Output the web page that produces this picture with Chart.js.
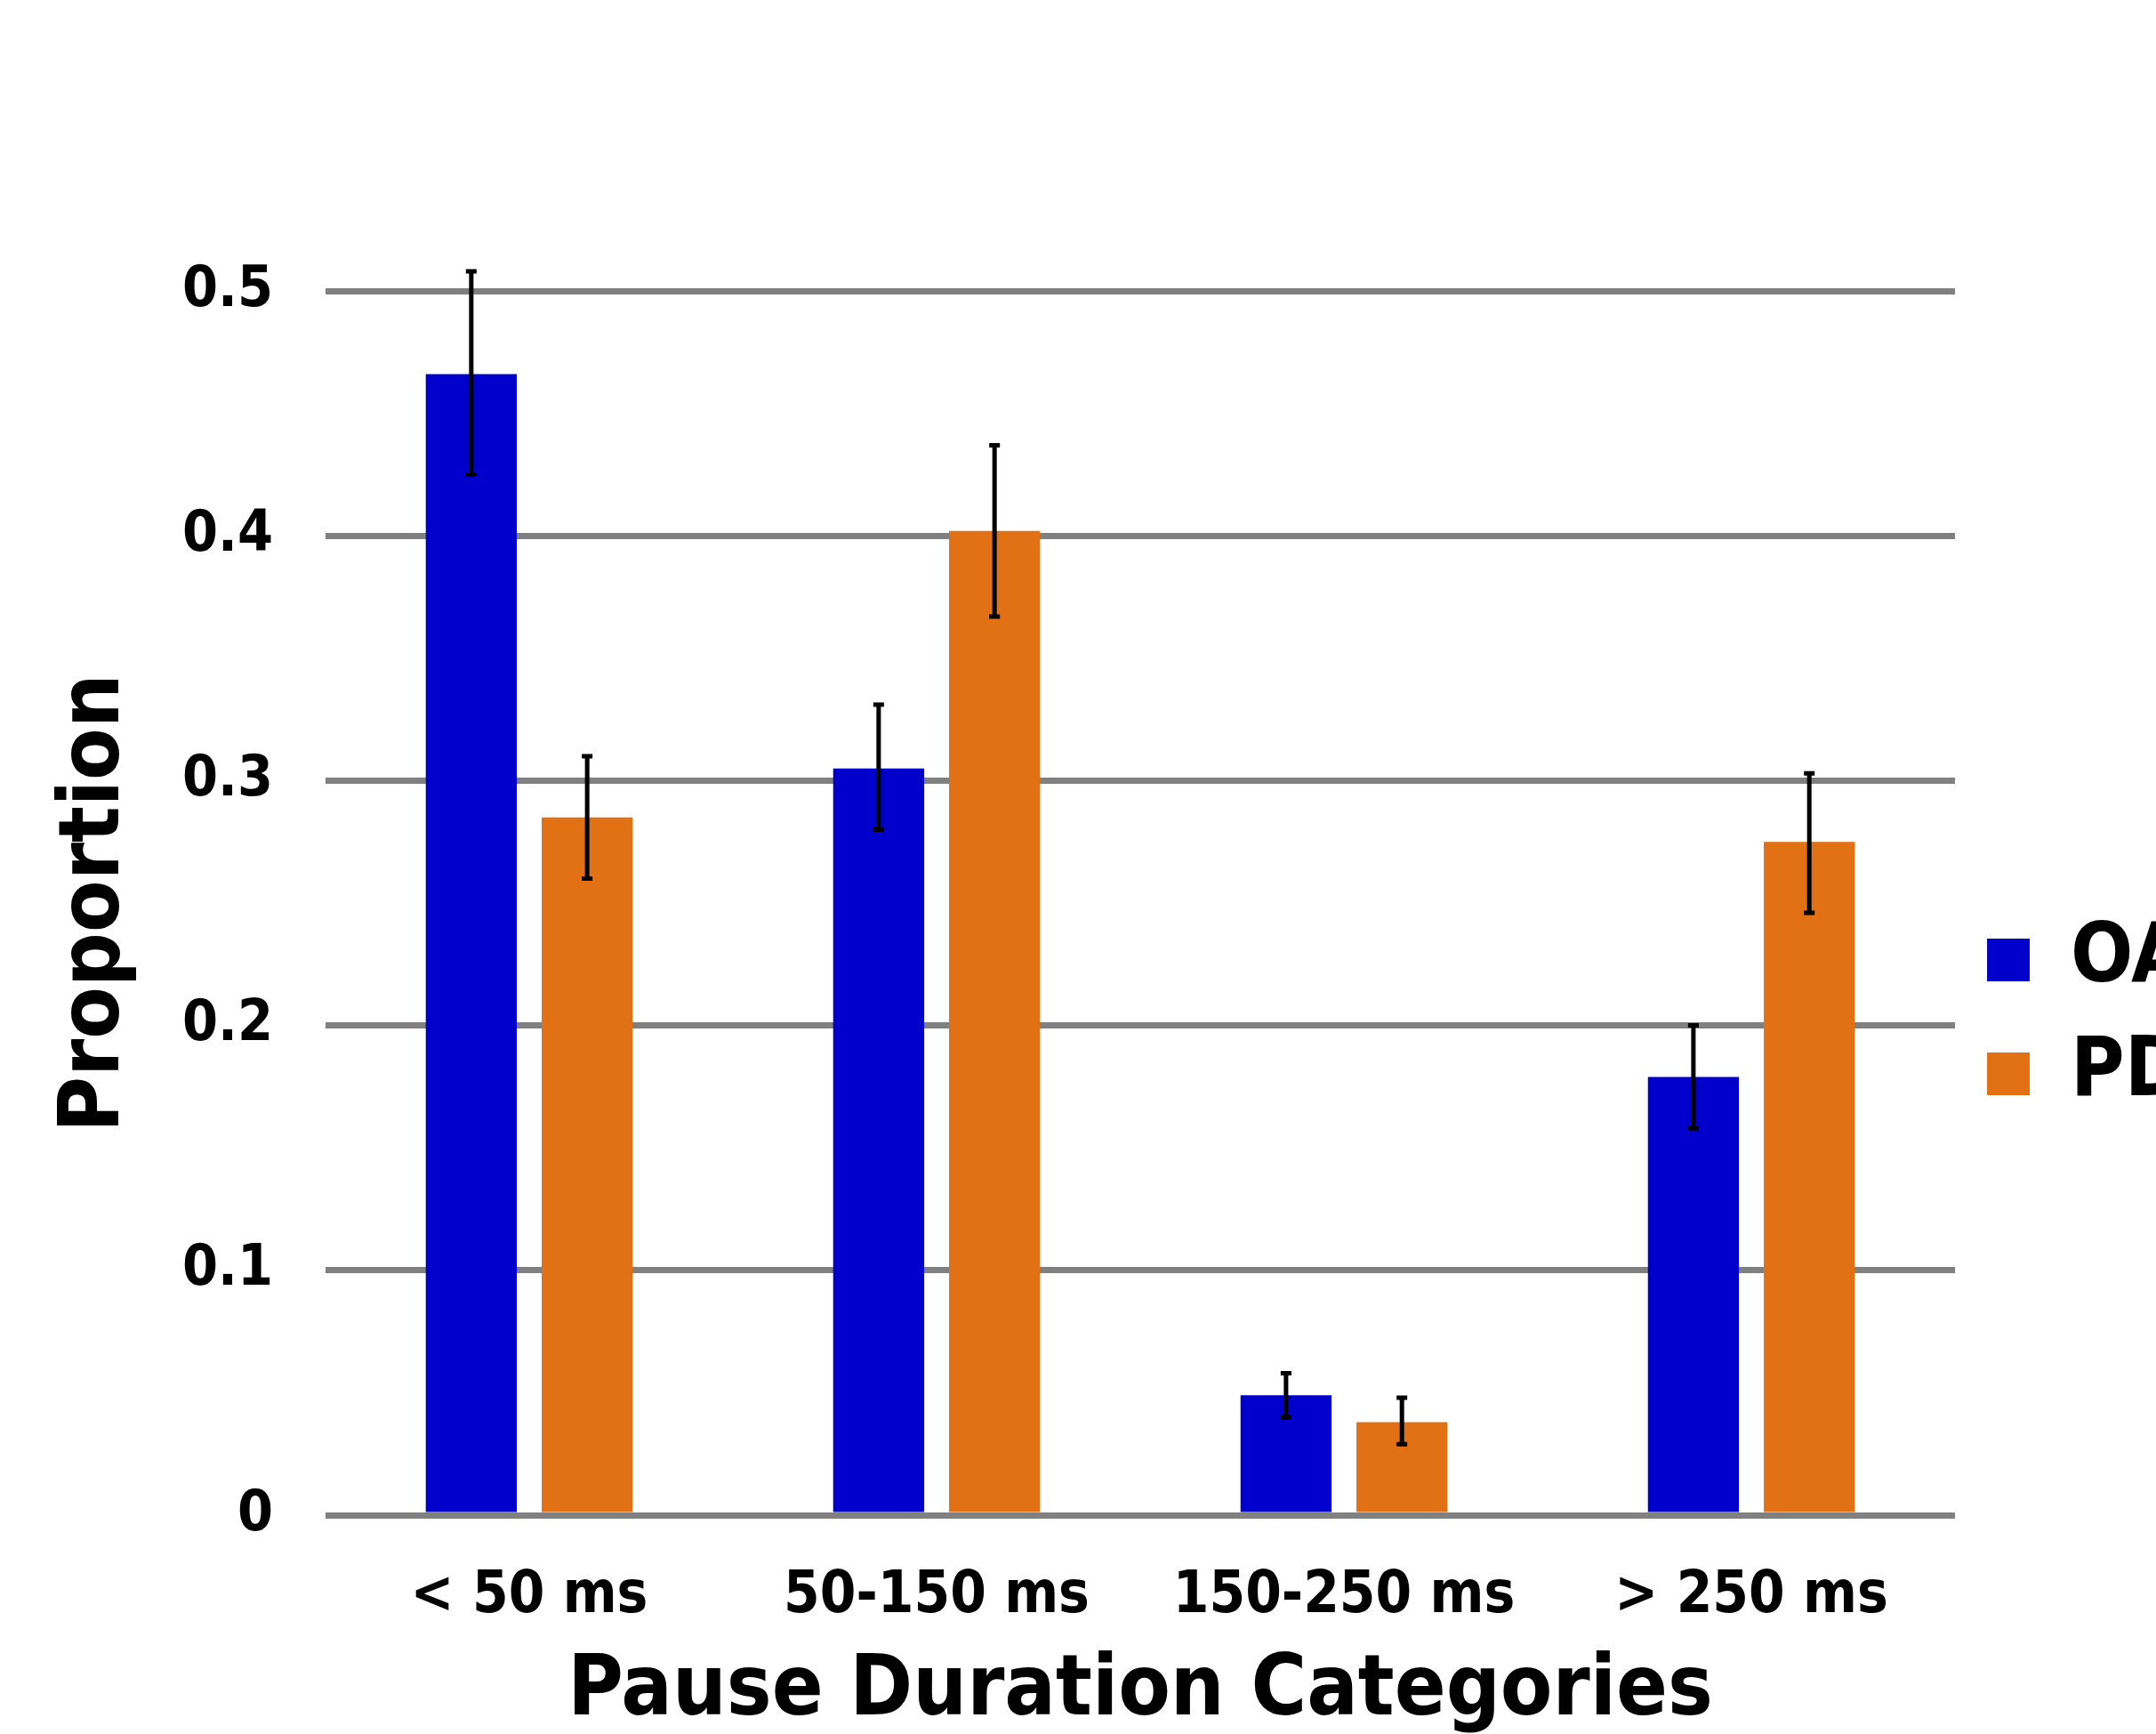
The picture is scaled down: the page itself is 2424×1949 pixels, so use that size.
<!DOCTYPE html>
<html>
<head>
<meta charset="utf-8">
<script src="https://cdn.jsdelivr.net/npm/chart.js@4.4.1/dist/chart.umd.min.js"></script>
<style>
  html, body { margin: 0; padding: 0; background: #ffffff; overflow: hidden; }
  #wrap { width: 2424px; height: 1949px; overflow: hidden; position: relative; }
  canvas { display: block; }
</style>
</head>
<body>
<div id="wrap"><canvas id="c" width="2470" height="1949"></canvas></div>
<script>
// ---- data ----
const categories = ['< 50 ms', '50-150 ms', '150-250 ms', '> 250 ms'];
const seriesNames = ['OA', 'PD'];
const oaValues = [0.466, 0.305, 0.049, 0.179];
const oaLower  = [0.425, 0.280, 0.040, 0.158];
const oaUpper  = [0.508, 0.331, 0.058, 0.200];
const pdValues = [0.285, 0.402, 0.038, 0.275];
const pdLower  = [0.260, 0.367, 0.029, 0.246];
const pdUpper  = [0.310, 0.437, 0.048, 0.303];
const yTicks   = [0, 0.1, 0.2, 0.3, 0.4, 0.5];
const yTitle   = 'Proportion';
const xTitle   = 'Pause Duration Categories';

const FONT = "'DejaVu Sans Condensed', 'DejaVu Sans', sans-serif";
const errLower = [oaLower, pdLower];
const errUpper = [oaUpper, pdUpper];

const errorBars = {
  id: 'errorBars',
  afterDatasetsDraw(chart) {
    const ctx = chart.ctx;
    const y = chart.scales.y;
    ctx.save();
    ctx.strokeStyle = '#000000';
    chart.data.datasets.forEach((ds, di) => {
      const meta = chart.getDatasetMeta(di);
      meta.data.forEach((bar, i) => {
        const x = bar.x;
        const yl = y.getPixelForValue(errLower[di][i]);
        const yu = y.getPixelForValue(errUpper[di][i]);
        ctx.lineWidth = 5;
        ctx.beginPath();
        ctx.moveTo(x, yl);
        ctx.lineTo(x, yu);
        ctx.stroke();
        ctx.beginPath();
        ctx.moveTo(x - 6, yl); ctx.lineTo(x + 6, yl);
        ctx.moveTo(x - 6, yu); ctx.lineTo(x + 6, yu);
        ctx.stroke();
      });
    });
    ctx.restore();
  }
};

new Chart(document.getElementById('c'), {
  type: 'bar',
  data: {
    labels: categories,
    datasets: [
      { label: seriesNames[0], data: oaValues, backgroundColor: '#0000CC', borderWidth: 0,
        categoryPercentage: 0.569, barPercentage: 0.785 },
      { label: seriesNames[1], data: pdValues, backgroundColor: '#E27015', borderWidth: 0,
        categoryPercentage: 0.569, barPercentage: 0.785 }
    ]
  },
  options: {
    responsive: false,
    animation: false,
    layout: { padding: { top: 327, bottom: -10, left: 0, right: 0 } },
    plugins: {
      tooltip: { enabled: false },
      legend: {
        position: 'right',
        align: 'center',
        labels: {
          boxWidth: 48, boxHeight: 48, padding: 36, color: '#000000',
          font: { family: FONT, size: 92, weight: 'bold' }
        }
      }
    },
    scales: {
      x: {
        grid: { display: false, drawTicks: false },
        border: { display: false },
        ticks: { color: '#000000', padding: 53, maxRotation: 0,
                 font: { family: FONT, size: 65, weight: 'bold' } },
        title: { display: true, text: xTitle, color: '#000000',
                 padding: { top: 0, bottom: 0 },
                 font: { family: FONT, size: 95, weight: 'bold' } },
        afterFit(s) { s.height = 256; }
      },
      y: {
        min: 0, max: 0.5,
        afterBuildTicks(s) { s.ticks = yTicks.map(v => ({ value: v })); },
        grid: { color: '#808080', lineWidth: 7, drawTicks: false },
        border: { display: false },
        ticks: { color: '#000000', padding: 59,
                 font: { family: FONT, size: 64, weight: 'bold' } },
        title: { display: true, text: yTitle, color: '#000000',
                 padding: { top: 51, bottom: 0 },
                 font: { family: FONT, size: 95, weight: 'bold' } },
        afterFit(s) { s.width = 366; }
      }
    }
  },
  plugins: [errorBars]
});
</script>
</body>
</html>
